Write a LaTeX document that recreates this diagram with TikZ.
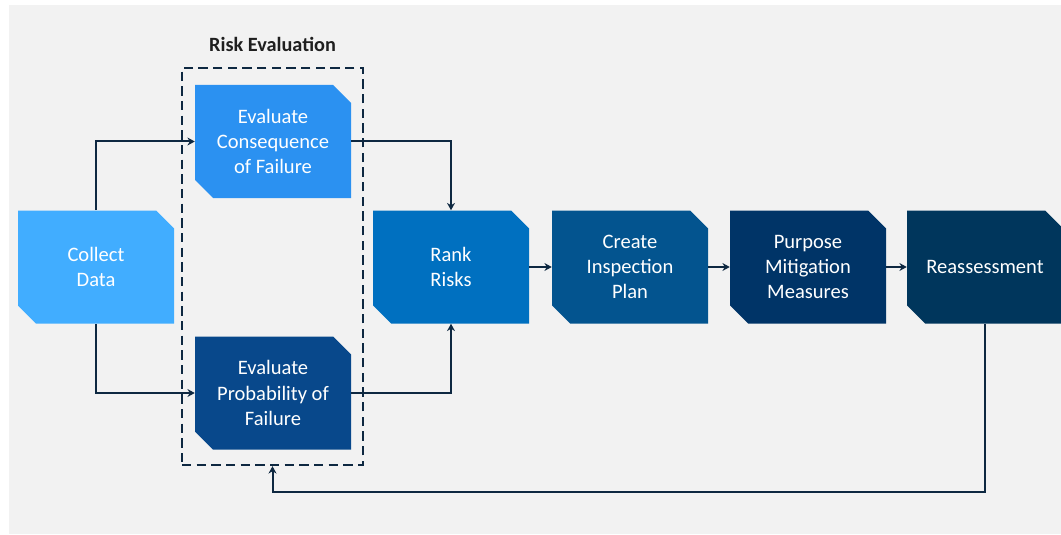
\documentclass[tikz,border=0pt]{standalone}
\usepackage{fontspec}
\setmainfont{Carlito}
\usetikzlibrary{arrows.meta,calc}

\definecolor{pagebg}{HTML}{F2F2F2}
\definecolor{linenavy}{HTML}{0E2841}
\definecolor{cCollect}{HTML}{41ADFF}
\definecolor{cCons}{HTML}{2B91F1}
\definecolor{cRank}{HTML}{0070C0}
\definecolor{cCreate}{HTML}{03548F}
\definecolor{cProb}{HTML}{08488B}
\definecolor{cPurpose}{HTML}{003467}
\definecolor{cReass}{HTML}{00365C}

\tikzset{
  stage/.style={
    minimum width=117pt, minimum height=84.75pt, inner sep=0pt,
    align=center, text=white,
    font=\fontsize{15.4}{18.8}\selectfont,
    path picture={
      \fill[#1]
        (path picture bounding box.north west)
        -- ([xshift=-13.5pt]path picture bounding box.north east)
        -- ([yshift=-13.5pt]path picture bounding box.north east)
        -- (path picture bounding box.south east)
        -- ([xshift=13.5pt]path picture bounding box.south west)
        -- ([yshift=13.5pt]path picture bounding box.south west)
        -- cycle;
    }},
  flow/.style={draw=linenavy, line width=1.5pt,
    -{Stealth[length=5.5pt,width=6pt]}},
  groupbox/.style={draw=linenavy, line width=1.8pt,
    dash pattern=on 7pt off 4pt, minimum width=135.75pt,
    minimum height=297.75pt, inner sep=0pt},
}

\begin{document}
\begin{tikzpicture}[x=0.75pt, y=-0.75pt]
  \useasboundingbox (0,0) rectangle (1061,535);
  \clip (0,0) rectangle (1061,535);
  \fill[white] (0,0) rectangle (1061,535);
  \fill[pagebg] (9,5) rectangle (1061,534);

  % dashed group and its title
  \node[groupbox] (riskbox) at (272.5,266.5) {};
  \node[font=\bfseries\fontsize{15.2}{17}\selectfont, text=black!88]
    (risktitle) at (272.5,44) {Risk Evaluation};

  % process stages
  \node[stage=cCollect] (collect) at (96,267) {Collect\\Data};
  \node[stage=cCons]    (cons)    at (273,141.5) {Evaluate\\Consequence\\of Failure};
  \node[stage=cProb]    (prob)    at (273,393) {Evaluate\\Probability of\\Failure};
  \node[stage=cRank]    (rank)    at (451,267) {Rank\\Risks};
  \node[stage=cCreate]  (create)  at (630,267) {Create\\Inspection\\Plan};
  \node[stage=cPurpose] (purpose) at (808,267) {Purpose\\Mitigation\\Measures};
  \node[stage=cReass]   (reass)   at (985,267) {Reassessment};

  % connectors
  \draw[flow] (collect.north) |- (cons.west);
  \draw[flow] (collect.south) |- (prob.west);
  \draw[flow] (cons.east) -| (rank.north);
  \draw[flow] (prob.east) -| (rank.south);
  \draw[flow] (rank) -- (create);
  \draw[flow] (create) -- (purpose);
  \draw[flow] (purpose) -- (reass);

  % feedback loop back to the evaluation group
  \coordinate (fbturn) at (272.5,492);
  \draw[flow] (reass.south) |- (fbturn) -- (riskbox.south);
\end{tikzpicture}
\end{document}
